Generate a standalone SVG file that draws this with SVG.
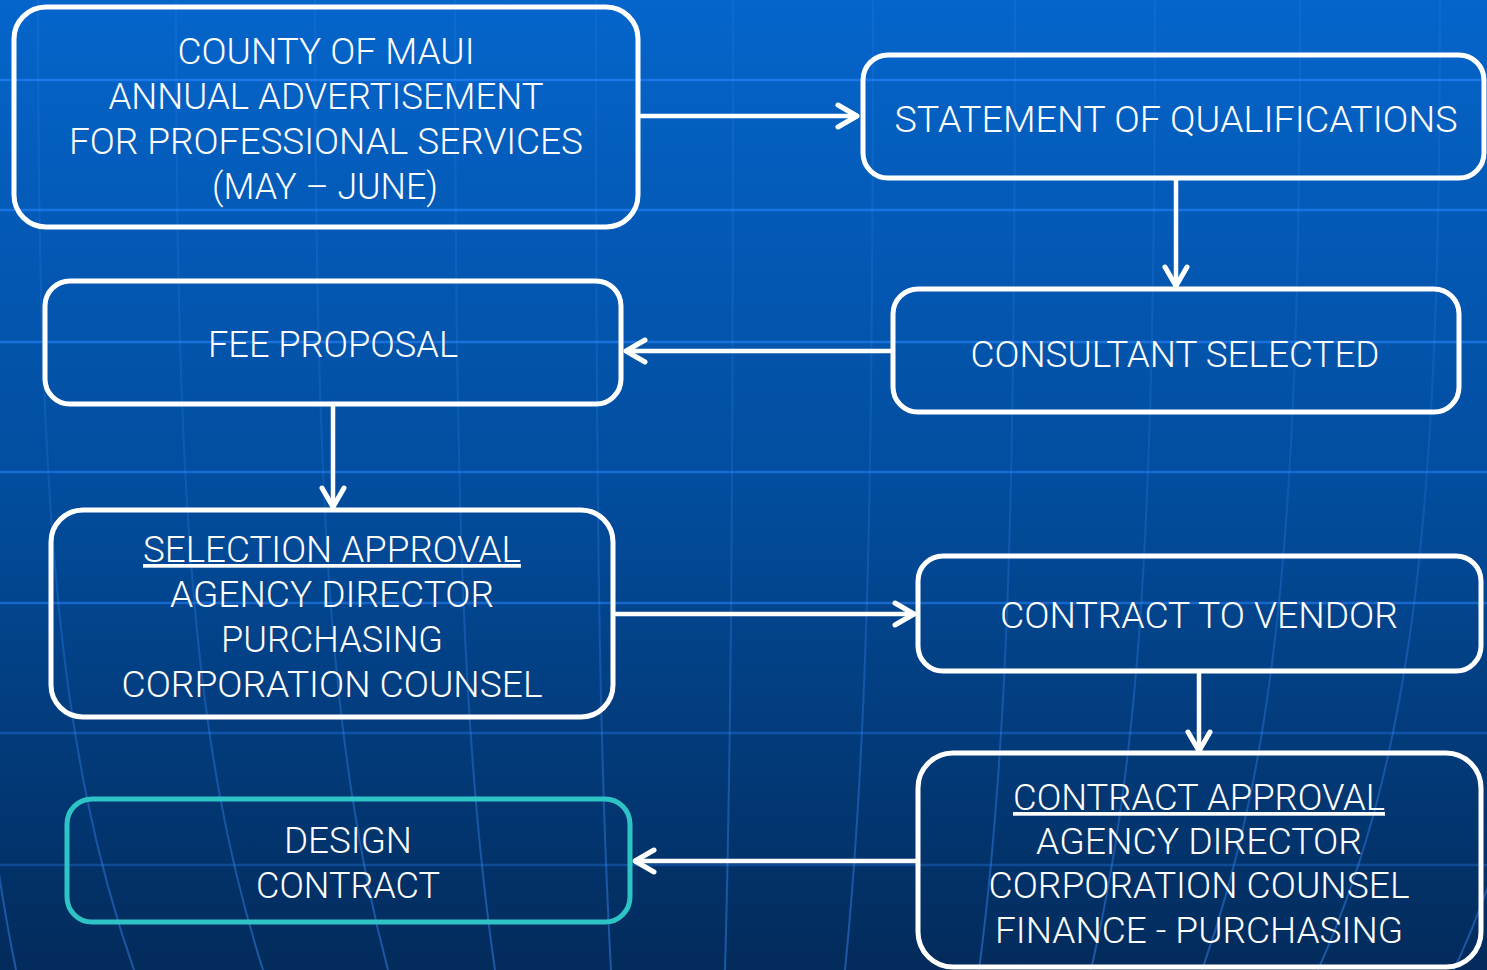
<svg xmlns="http://www.w3.org/2000/svg" width="1487" height="970" viewBox="0 0 1487 970">
  <defs>
    <linearGradient id="bg" x1="0" y1="0" x2="0" y2="1">
      <stop offset="0" stop-color="#0565cb"/>
      <stop offset="0.5" stop-color="#024d9e"/>
      <stop offset="1" stop-color="#032b5b"/>
    </linearGradient>
    <linearGradient id="merg" gradientUnits="userSpaceOnUse" x1="0" y1="0" x2="0" y2="970">
      <stop offset="0" stop-color="#4a96ff" stop-opacity="0.12"/>
      <stop offset="0.5" stop-color="#3b8eff" stop-opacity="0.2"/>
      <stop offset="1" stop-color="#3b8eff" stop-opacity="0.45"/>
    </linearGradient>
    <marker id="arr" viewBox="-26 -15 30 30" markerWidth="30" markerHeight="30" refX="0" refY="0" orient="auto" markerUnits="userSpaceOnUse">
      <path d="M -20 -11 L -1 0 L -20 11" fill="none" stroke="#ffffff" stroke-width="5" stroke-linecap="round" stroke-linejoin="round"/>
    </marker>
    <style>
      .box { fill: none; stroke: #ffffff; stroke-width: 5; }
      .teal { fill: none; stroke: #2ec4c6; stroke-width: 5; }
      .t { font-family: Roboto, "Liberation Sans", Arial, sans-serif; font-weight: 300; font-size: 37px; fill: #ffffff; text-anchor: middle; }
      .u { text-decoration: underline; }
      .conn { stroke: #ffffff; stroke-width: 4.5; fill: none; marker-end: url(#arr); }
      .hl { stroke: #2a84ff; stroke-width: 2.5; fill: none; }
      .mer { stroke: url(#merg); stroke-width: 2; fill: none; }
    </style>
  </defs>

  <g id="background">
    <rect x="0" y="0" width="1487" height="970" fill="url(#bg)"/>
    <line class="hl" x1="0" y1="80" x2="1487" y2="80" opacity="0.6"/>
    <line class="hl" x1="0" y1="210" x2="1487" y2="210" opacity="0.6"/>
    <line class="hl" x1="0" y1="342" x2="1487" y2="342" opacity="0.6"/>
    <line class="hl" x1="0" y1="472" x2="1487" y2="472" opacity="0.55"/>
    <line class="hl" x1="0" y1="603" x2="1487" y2="603" opacity="0.55"/>
    <line class="hl" x1="0" y1="733" x2="1487" y2="733" opacity="0.35"/>
    <line class="hl" x1="0" y1="865" x2="1487" y2="865" opacity="0.3"/>
    <path class="mer" d="M -40 0 C -40 500 -29 750 16 970"/>
    <path class="mer" d="M 38 0 C 38 500 57 750 134 970"/>
    <path class="mer" d="M 176 0 C 176 500 193 750 263 970"/>
    <path class="mer" d="M 315 0 C 315 500 330 750 388 970"/>
    <path class="mer" d="M 455 0 C 455 500 463 750 495 970"/>
    <path class="mer" d="M 596 0 C 596 500 599 750 611 970"/>
    <path class="mer" d="M 733 0 C 733 500 731 750 725 970"/>
    <path class="mer" d="M 873 0 C 873 500 867 750 845 970"/>
    <path class="mer" d="M 1015 0 C 1015 500 1008 750 979 970"/>
    <path class="mer" d="M 1155 0 C 1155 500 1142 750 1091 970"/>
    <path class="mer" d="M 1300 0 C 1300 500 1280 750 1202 970"/>
    <path class="mer" d="M 1440 0 C 1440 500 1416 750 1318 970"/>
    <path class="mer" d="M 1580 0 C 1580 500 1555 750 1454 970"/>
  </g>

  <g id="connectors">
    <line class="conn" x1="640" y1="116" x2="858" y2="116"/>
    <line class="conn" x1="1176" y1="180" x2="1176" y2="287"/>
    <line class="conn" x1="891" y1="351" x2="625" y2="351"/>
    <line class="conn" x1="333" y1="406" x2="333" y2="508"/>
    <line class="conn" x1="615" y1="614" x2="915" y2="614"/>
    <line class="conn" x1="1199" y1="673" x2="1199" y2="752"/>
    <line class="conn" x1="916" y1="861" x2="634" y2="861"/>
  </g>

  <g id="node-county">
    <rect class="box" x="14" y="7" width="624" height="220" rx="32"/>
    <text class="t" x="326" y="64" textLength="297" lengthAdjust="spacingAndGlyphs">COUNTY OF MAUI</text>
    <text class="t" x="326" y="109" textLength="435" lengthAdjust="spacingAndGlyphs">ANNUAL ADVERTISEMENT</text>
    <text class="t" x="326" y="154" textLength="514" lengthAdjust="spacingAndGlyphs">FOR PROFESSIONAL SERVICES</text>
    <text class="t" x="325" y="199" textLength="226" lengthAdjust="spacingAndGlyphs">(MAY – JUNE)</text>
  </g>

  <g id="node-statement">
    <rect class="box" x="863" y="55" width="621" height="123" rx="25"/>
    <text class="t" x="1176" y="132" textLength="563" lengthAdjust="spacingAndGlyphs">STATEMENT OF QUALIFICATIONS</text>
  </g>

  <g id="node-consultant">
    <rect class="box" x="893" y="289" width="566" height="123" rx="25"/>
    <text class="t" x="1175" y="367" textLength="409" lengthAdjust="spacingAndGlyphs">CONSULTANT SELECTED</text>
  </g>

  <g id="node-fee">
    <rect class="box" x="45" y="281" width="576" height="123" rx="25"/>
    <text class="t" x="333" y="357" textLength="250" lengthAdjust="spacingAndGlyphs">FEE PROPOSAL</text>
  </g>

  <g id="node-selection">
    <rect class="box" x="51" y="510" width="562" height="207" rx="32"/>
    <text class="t u" x="332" y="562" textLength="378" lengthAdjust="spacingAndGlyphs">SELECTION APPROVAL</text>
    <text class="t" x="332" y="607" textLength="324" lengthAdjust="spacingAndGlyphs">AGENCY DIRECTOR</text>
    <text class="t" x="332" y="652" textLength="222" lengthAdjust="spacingAndGlyphs">PURCHASING</text>
    <text class="t" x="332" y="697" textLength="421" lengthAdjust="spacingAndGlyphs">CORPORATION COUNSEL</text>
  </g>

  <g id="node-vendor">
    <rect class="box" x="918" y="556" width="563" height="115" rx="25"/>
    <text class="t" x="1199" y="628" textLength="398" lengthAdjust="spacingAndGlyphs">CONTRACT TO VENDOR</text>
  </g>

  <g id="node-contract-approval">
    <rect class="box" x="918" y="753" width="563" height="214" rx="35"/>
    <text class="t u" x="1199" y="810" textLength="372" lengthAdjust="spacingAndGlyphs">CONTRACT APPROVAL</text>
    <text class="t" x="1199" y="854" textLength="326" lengthAdjust="spacingAndGlyphs">AGENCY DIRECTOR</text>
    <text class="t" x="1199" y="898" textLength="421" lengthAdjust="spacingAndGlyphs">CORPORATION COUNSEL</text>
    <text class="t" x="1199" y="943" textLength="408" lengthAdjust="spacingAndGlyphs">FINANCE - PURCHASING</text>
  </g>

  <g id="node-design">
    <rect class="teal" x="67" y="799" width="563" height="123" rx="25"/>
    <text class="t" x="348" y="853" textLength="128" lengthAdjust="spacingAndGlyphs">DESIGN</text>
    <text class="t" x="348" y="898" textLength="184" lengthAdjust="spacingAndGlyphs">CONTRACT</text>
  </g>
</svg>
